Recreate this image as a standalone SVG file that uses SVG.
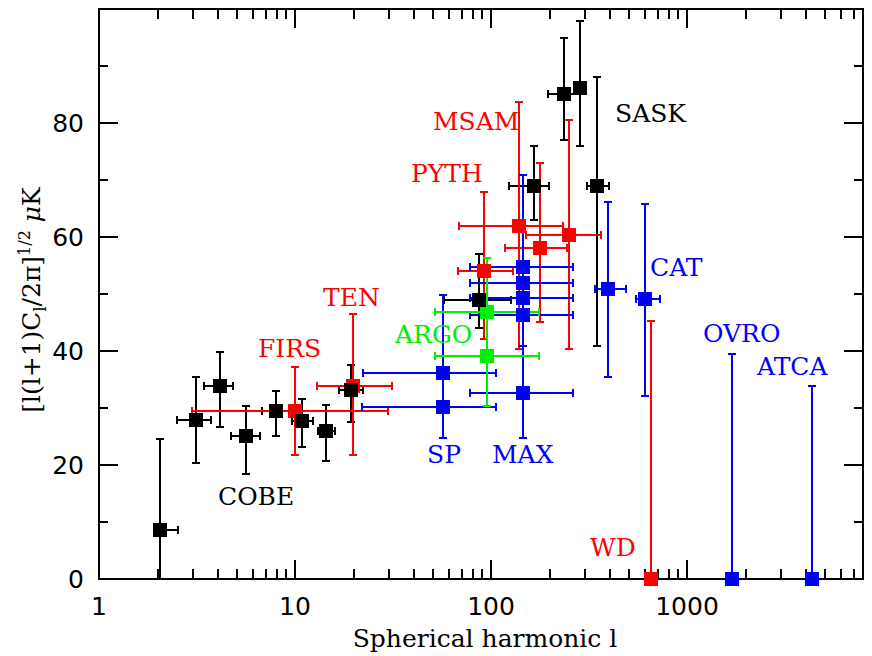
<svg xmlns="http://www.w3.org/2000/svg" width="872" height="656" viewBox="0 0 872 656">
<style>
text{font-family:"DejaVu Serif","Liberation Serif",serif;font-size:25px}
.ax{stroke:#000;stroke-width:2;fill:none}
.k{stroke:#000;stroke-width:2;fill:none}.kf{fill:#000}
.r{stroke:#f00;stroke-width:2;fill:none}.rf{fill:#f00}
.b{stroke:#00f;stroke-width:2;fill:none}.bf{fill:#00f}
.g{stroke:#0e0;stroke-width:2;fill:none}.gf{fill:#0e0}
</style>
<rect width="872" height="656" fill="#fff"/>
<g id="axes">
<rect class="ax" x="99" y="9" width="764" height="570"/>
<path class="ax" d="M99,579h19M99,522h9M99,465h19M99,408h9M99,351h19M99,294h9M99,237h19M99,180h9M99,123h19M99,66h9
M863,522h-9M863,465h-19M863,408h-9M863,351h-19M863,294h-9M863,237h-19M863,180h-9M863,123h-19M863,66h-9
M295,579v-19M491,579v-19M687,579v-19M295,9v19M491,9v19M687,9v19
M158,579v-10M193,579v-10M218,579v-10M237,579v-10M253,579v-10M266,579v-10M277,579v-10M286,579v-10
M354,579v-10M389,579v-10M414,579v-10M433,579v-10M449,579v-10M462,579v-10M473,579v-10M482,579v-10
M550,579v-10M585,579v-10M610,579v-10M629,579v-10M645,579v-10M658,579v-10M669,579v-10M678,579v-10
M746,579v-10M781,579v-10M806,579v-10M825,579v-10M841,579v-10M854,579v-10
M158,9v10M193,9v10M218,9v10M237,9v10M253,9v10M266,9v10M277,9v10M286,9v10
M354,9v10M389,9v10M414,9v10M433,9v10M449,9v10M462,9v10M473,9v10M482,9v10
M550,9v10M585,9v10M610,9v10M629,9v10M645,9v10M658,9v10M669,9v10M678,9v10
M746,9v10M781,9v10M806,9v10M825,9v10M841,9v10M854,9v10"/>
<g font-family="DejaVu Sans,sans-serif">
<text x="84" y="588" text-anchor="end" style="font-family:'DejaVu Sans',sans-serif">0</text>
<text x="84" y="474" text-anchor="end" style="font-family:'DejaVu Sans',sans-serif">20</text>
<text x="84" y="360" text-anchor="end" style="font-family:'DejaVu Sans',sans-serif">40</text>
<text x="84" y="246" text-anchor="end" style="font-family:'DejaVu Sans',sans-serif">60</text>
<text x="84" y="132" text-anchor="end" style="font-family:'DejaVu Sans',sans-serif">80</text>
<text x="99" y="615" text-anchor="middle" style="font-family:'DejaVu Sans',sans-serif">1</text>
<text x="295" y="615" text-anchor="middle" style="font-family:'DejaVu Sans',sans-serif">10</text>
<text x="491" y="615" text-anchor="middle" style="font-family:'DejaVu Sans',sans-serif">100</text>
<text x="687" y="615" text-anchor="middle" style="font-family:'DejaVu Sans',sans-serif">1000</text>
</g>
<text x="485" y="647" text-anchor="middle">Spherical harmonic l</text>
<text transform="translate(40,300) rotate(-90)" text-anchor="middle">[l(l+1)C<tspan font-size="16" dy="6">l</tspan><tspan dy="-6">/2π]</tspan><tspan font-size="16" dy="-10">1/2</tspan><tspan dy="10" font-style="italic"> μ</tspan>K</text>
</g>
<g id="connectors">
<path class="k" d="M160,439V579M156,439h8M160,530h18M178,526v8
M196,377V463M192,377h8M192,463h8M177,420h34M177,416v8M211,416v8
M220,352V427M216,352h8M216,427h8M204,386h29M204,382v8M233,382v8
M246,406V474M242,406h8M242,474h8M231,436h29M231,432v8M260,432v8
M276,391V436M272,391h8M272,436h8M262,411h29M262,407v8M291,407v8
M302,399V447M298,399h8M298,447h8M292,421h21M292,417v8M313,417v8
M326,405V461M322,405h8M322,461h8M318,431h17M318,427v8M335,427v8
M351,365V422M347,365h8M347,422h8M339,390h24M339,386v8M363,386v8
M479,254V328M475,254h8M475,328h8M444,300h67M444,296v8M511,296v8
M534,146V220M530,146h8M530,220h8M509,186h40M509,182v8M549,182v8
M597,77V346M593,77h8M593,346h8M587,186h22M587,182v8M609,182v8
M564,38V140M560,38h8M560,140h8M548,94h32M548,90v8
M580,21V146M576,21h8M576,146h8"/>
<path class="r" d="M295,367V455M291,367h8M291,455h8M192,411h196M192,407v8M388,407v8
M353,314V455M349,314h8M349,455h8M317,386h75M317,382v8M392,382v8
M484,192V339M480,192h8M480,339h8M458,271h55M458,267v8M513,267v8
M519,102V349M515,102h8M515,349h8M459,226h104M459,222v8M563,222v8
M540,163V322M536,163h8M536,322h8M505,248h62M505,244v8M567,244v8
M569,120V349M565,120h8M565,349h8M526,235h75M526,231v8M601,231v8
M651,321V579M647,321h8"/>
<path class="b" d="M443,295V438M439,295h8M439,438h8M363,373h133M363,369v8M496,369v8M362,407h134M362,403v8M496,403v8
M523,175V346M519,175h8M519,346h8M523,346V438M519,438h8
M470,267h103M470,263v8M573,263v8M470,283h103M470,279v8M573,279v8M470,298h103M470,294v8M573,294v8M470,315h103M470,311v8M573,311v8M470,393h103M470,389v8M573,389v8
M608,202V377M604,202h8M604,377h8M595,289h31M595,285v8M626,285v8
M645,204V396M641,204h8M641,396h8M636,299h24M636,295v8M660,295v8
M732,354V579M728,354h8M812,386V579M808,386h8"/>
<path class="g" d="M487,258V406M483,258h8M483,406h8M483,312h8M483,356h8M435,312h104M435,308v8M539,308v8M435,356h104M435,352v8M539,352v8"/>
</g>
<g id="points">
<g class="rf"><rect x="288" y="404" width="14" height="14"/><rect x="346" y="379" width="14" height="14"/><rect x="477" y="264" width="14" height="14"/><rect x="512" y="219" width="14" height="14"/><rect x="533" y="241" width="14" height="14"/><rect x="562" y="228" width="14" height="14"/><rect x="644" y="572" width="14" height="14"/></g>
<g class="bf"><rect x="436" y="366" width="14" height="14"/><rect x="436" y="400" width="14" height="14"/><rect x="516" y="260" width="14" height="14"/><rect x="516" y="276" width="14" height="14"/><rect x="516" y="291" width="14" height="14"/><rect x="516" y="308" width="14" height="14"/><rect x="516" y="386" width="14" height="14"/><rect x="601" y="282" width="14" height="14"/><rect x="638" y="292" width="14" height="14"/><rect x="725" y="572" width="14" height="14"/><rect x="805" y="572" width="14" height="14"/></g>
<g class="gf"><rect x="480" y="305" width="14" height="14"/><rect x="480" y="349" width="14" height="14"/></g>
<g class="kf"><rect x="153" y="523" width="14" height="14"/><rect x="189" y="413" width="14" height="14"/><rect x="213" y="379" width="14" height="14"/><rect x="239" y="429" width="14" height="14"/><rect x="269" y="404" width="14" height="14"/><rect x="295" y="414" width="14" height="14"/><rect x="319" y="424" width="14" height="14"/><rect x="344" y="383" width="14" height="14"/><rect x="472" y="293" width="14" height="14"/><rect x="527" y="179" width="14" height="14"/><rect x="590" y="179" width="14" height="14"/><rect x="557" y="87" width="14" height="14"/><rect x="573" y="81" width="14" height="14"/></g>
</g>
<g id="labels">
<text x="615" y="122">SASK</text>
<text x="433" y="130" fill="#f00">MSAM</text>
<text x="411" y="182" fill="#f00">PYTH</text>
<text x="323" y="306" fill="#f00">TEN</text>
<text x="258" y="357" fill="#f00">FIRS</text>
<text x="395" y="343" fill="#0e0">ARGO</text>
<text x="218" y="505">COBE</text>
<text x="427" y="463" fill="#00f">SP</text>
<text x="492" y="463" fill="#00f">MAX</text>
<text x="650" y="276" fill="#00f">CAT</text>
<text x="703" y="342" fill="#00f">OVRO</text>
<text x="757" y="375" fill="#00f">ATCA</text>
<text x="590" y="556" fill="#f00">WD</text>
</g>
</svg>
